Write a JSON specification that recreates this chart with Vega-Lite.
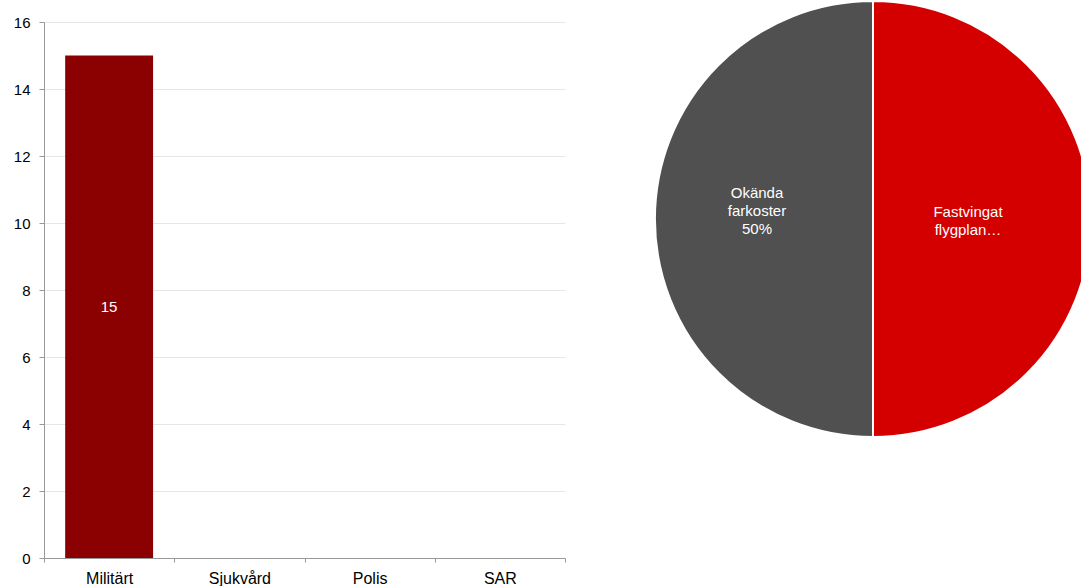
{
  "$schema": "https://vega.github.io/schema/vega-lite/v6.json",
  "background": "white",
  "padding": {"top": -3, "left": 13, "right": 0, "bottom": 0},
  "bounds": "flush",
  "spacing": 108,
  "config": {"view": {"stroke": null}, "font": "Liberation Sans"},
  "hconcat": [
    {
      "width": 521,
      "height": 536,
      "data": {"values": [
        {"category": "Militärt", "value": 15},
        {"category": "Sjukvård", "value": 0},
        {"category": "Polis", "value": 0},
        {"category": "SAR", "value": 0}
      ]},
      "encoding": {
        "x": {
          "field": "category", "type": "nominal", "sort": null,
          "scale": {"paddingInner": 0, "paddingOuter": 0},
          "axis": {"title": null, "labelAngle": 0, "labelFontSize": 16, "labelColor": "#000000",
                   "tickBand": "extent", "tickSize": 4, "labelPadding": 8, "grid": false,
                   "domainColor": "#999999", "tickColor": "#999999"}
        },
        "y": {
          "field": "value", "type": "quantitative",
          "scale": {"domain": [0, 16], "nice": false},
          "axis": {"title": null, "values": [0, 2, 4, 6, 8, 10, 12, 14, 16], "labelFontSize": 15,
                   "labelColor": "#000000", "tickSize": 5, "labelPadding": 9, "grid": true,
                   "gridColor": "#e6e6e6", "domainColor": "#999999", "tickColor": "#999999"}
        }
      },
      "layer": [
        {"mark": {"type": "bar", "color": "#8B0000", "width": {"band": 0.675}}},
        {
          "transform": [{"filter": "datum.value > 0"}, {"calculate": "datum.value / 2", "as": "mid"}],
          "mark": {"type": "text", "color": "white", "fontSize": 15},
          "encoding": {
            "y": {"field": "mid", "type": "quantitative"},
            "text": {"field": "value", "type": "quantitative"}
          }
        }
      ]
    },
    {
      "width": 400,
      "height": 394,
      "data": {"values": [
        {"type": "Fastvingat flygplan", "share": 50, "label": "Fastvingat\nflygplan…", "rank": 1},
        {"type": "Okända farkoster", "share": 50, "label": "Okända\nfarkoster\n50%", "rank": 2}
      ]},
      "encoding": {
        "theta": {"field": "share", "type": "quantitative", "stack": true},
        "order": {"field": "rank", "type": "quantitative"},
        "color": {"field": "type", "type": "nominal",
                  "scale": {"domain": ["Fastvingat flygplan", "Okända farkoster"], "range": ["#D40000", "#505050"]},
                  "legend": null}
      },
      "layer": [
        {"mark": {"type": "arc", "outerRadius": 218, "stroke": "white", "strokeWidth": 2}},
        {
          "mark": {"type": "text", "radius": 95, "dy": -7, "fontSize": 15, "lineBreak": "\n", "lineHeight": 18},
          "encoding": {
            "text": {"condition": {"test": "datum.rank == 1", "field": "label"}, "value": ""},
            "color": {"value": "white"}
          }
        },
        {
          "mark": {"type": "text", "radius": 116, "dy": -26, "fontSize": 15, "lineBreak": "\n", "lineHeight": 18},
          "encoding": {
            "text": {"condition": {"test": "datum.rank == 2", "field": "label"}, "value": ""},
            "color": {"value": "white"}
          }
        }
      ]
    }
  ]
}
